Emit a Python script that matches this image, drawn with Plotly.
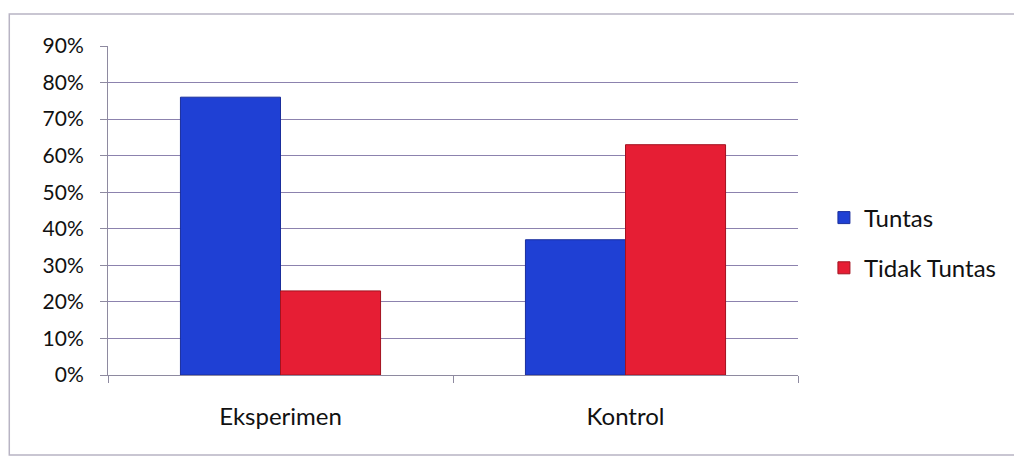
import plotly.graph_objects as go

categories = ["Eksperimen", "Kontrol"]
tuntas = [0.76, 0.37]
tidak_tuntas = [0.23, 0.63]
series_names = ["Tuntas", "Tidak Tuntas"]
y_ticks = [0, 0.1, 0.2, 0.3, 0.4, 0.5, 0.6, 0.7, 0.8, 0.9]
y_tick_labels = ["0%", "10%", "20%", "30%", "40%", "50%", "60%", "70%", "80%", "90%"]

W, H = 1014, 457
L, R, T, B = 108, 800, 46, 375

def px_x(p):
    return (p - L) / (R - L)

def px_y(p):
    return (B - p) / (B - T)

fig = go.Figure()
fig.add_trace(go.Bar(x=categories, y=tuntas, name=series_names[0], legendgroup="g1",
                     marker=dict(color="#1F40D4", line=dict(color="#1A2E9C", width=1))))
fig.add_trace(go.Bar(x=categories, y=tidak_tuntas, name=series_names[1], legendgroup="g2",
                     marker=dict(color="#E61E34", line=dict(color="#A3121F", width=1))))

font = "Lato, 'Open Sans', sans-serif"

fig.update_layout(
    width=W, height=H,
    margin=dict(l=L, r=W - R, t=T, b=H - B),
    paper_bgcolor="white", plot_bgcolor="white",
    barmode="group", bargap=0.42, bargroupgap=0,
    font=dict(family=font, size=21, color="#111111"),
    showlegend=True,
    legend=dict(x=px_x(826), y=px_y(243), xanchor="left", yanchor="middle",
                font=dict(size=24), itemwidth=30, tracegroupgap=16,
                bgcolor="rgba(0,0,0,0)"),
    xaxis=dict(showline=True, linecolor="#8E8AA0", linewidth=1,
               ticks="outside", ticklen=7, tickcolor="#8E8AA0", tickson="boundaries",
               showgrid=False, ticklabelstandoff=20, tickfont=dict(size=24)),
    yaxis=dict(range=[0, 0.9], tickvals=y_ticks, ticktext=y_tick_labels,
               showline=True, linecolor="#8E8AA0", linewidth=1,
               ticks="outside", ticklen=7, tickcolor="#8E8AA0",
               showgrid=True, gridcolor="#8C82AE", gridwidth=1,
               zeroline=False, ticklabelstandoff=12, tickfont=dict(size=21)),
    shapes=[dict(type="rect", xref="paper", yref="paper",
                 x0=px_x(9), x1=px_x(1030), y0=px_y(455), y1=px_y(14),
                 line=dict(color="#B8B4C4", width=1.5), layer="below")],
)

fig.write_html("out.html")
